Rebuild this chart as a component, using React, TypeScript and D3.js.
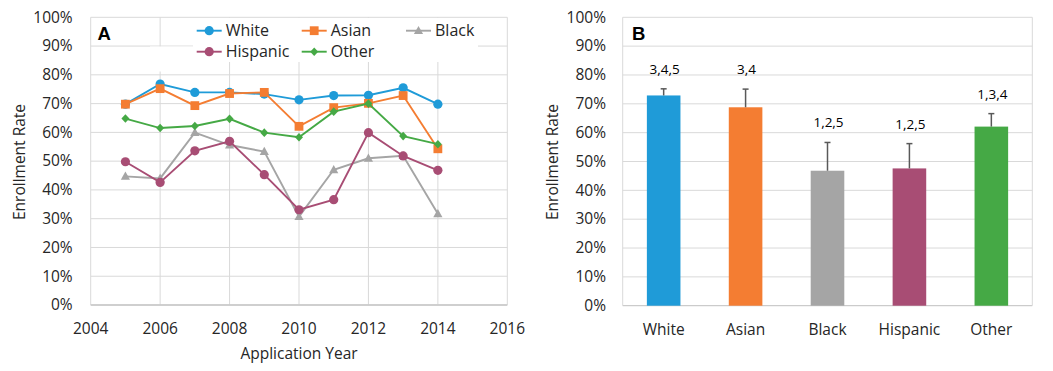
import React from "react";
import * as d3 from "d3";

const years = [2005, 2006, 2007, 2008, 2009, 2010, 2011, 2012, 2013, 2014];
const whiteRate = [69.8, 76.8, 73.9, 73.9, 73.3, 71.3, 72.8, 72.9, 75.5, 69.8];
const asianRate = [69.8, 75.2, 69.3, 73.5, 73.9, 62.1, 68.6, 70.1, 72.8, 54.3];
const blackRate = [44.7, 44.0, 59.9, 55.6, 53.3, 30.7, 47.0, 51.0, 51.9, 31.7];
const hispanicRate = [49.8, 42.6, 53.6, 56.9, 45.3, 33.1, 36.6, 59.9, 51.8, 46.8];
const otherRate = [64.8, 61.5, 62.2, 64.7, 59.9, 58.3, 67.2, 70.0, 58.7, 55.9];

const groups = ["White", "Asian", "Black", "Hispanic", "Other"];
const overallRate = [72.9, 68.8, 46.8, 47.6, 62.1];
const errorUpper = [75.2, 75.1, 56.6, 56.2, 66.6];
const sigLabels = ["3,4,5", "3,4", "1,2,5", "1,2,5", "1,3,4"];

const yTicks = [0, 10, 20, 30, 40, 50, 60, 70, 80, 90, 100];
const xTicks = [2004, 2006, 2008, 2010, 2012, 2014, 2016];

const colors = ["#1f9bd8", "#f47d32", "#a5a5a5", "#a84d74", "#45a945"];
const markers = ["circle", "square", "triangle", "circle", "diamond"];
const seriesValues = [whiteRate, asianRate, blackRate, hispanicRate, otherRate];

const FONT = "'Open Sans', sans-serif";
const TXT = "#262626";
const GRID = "#d9d9d9";
const AXIS = "#bfbfbf";

function Marker({ type, x, y, color }: { type: string; x: number; y: number; color: string }) {
  if (type === "circle") return <circle cx={x} cy={y} r={4.6} fill={color} />;
  if (type === "square") return <rect x={x - 4.4} y={y - 4.4} width={8.8} height={8.8} fill={color} />;
  if (type === "triangle")
    return <path d={`M${x},${y - 4.8}L${x + 4.6},${y + 3.4}L${x - 4.6},${y + 3.4}Z`} fill={color} />;
  return <path d={`M${x},${y - 4.3}L${x + 4},${y}L${x},${y + 4.3}L${x - 4},${y}Z`} fill={color} />;
}

export default function App() {
  // Panel A
  const ax0 = 90.7, ax1 = 507.3, ay0 = 305, ay1 = 17.3;
  const xA = d3.scaleLinear().domain([2004, 2016]).range([ax0, ax1]);
  const yA = d3.scaleLinear().domain([0, 100]).range([ay0, ay1]);
  const line = d3
    .line<number>()
    .x((_, i) => xA(years[i]))
    .y((d) => yA(d));

  // Panel B
  const bx0 = 622.7, bx1 = 1032.3, by0 = 305.7, by1 = 17.3;
  const xB = d3.scaleBand().domain(groups).range([bx0, bx1]).paddingInner(0.59).paddingOuter(0.295);
  const yB = d3.scaleLinear().domain([0, 100]).range([by0, by1]);

  const legendItems = [
    { name: "White", idx: 0, x: 196.7, y: 30.7 },
    { name: "Asian", idx: 1, x: 301.7, y: 30.7 },
    { name: "Black", idx: 2, x: 406, y: 30.7 },
    { name: "Hispanic", idx: 3, x: 196.7, y: 51.7 },
    { name: "Other", idx: 4, x: 301.7, y: 51.7 },
  ];

  return (
    <svg
      width={1053}
      height={371}
      style={{ position: "absolute", left: 0, top: 0, background: "#fff" }}
      fontFamily={FONT}
    >
      {/* Panel A grid */}
      <g>
        {yTicks.map((t) => (
          <line key={t} x1={ax0} x2={ax1} y1={yA(t)} y2={yA(t)} stroke={t === 0 ? AXIS : GRID} strokeWidth={1} />
        ))}
        {xTicks.map((t) => (
          <line key={t} x1={xA(t)} x2={xA(t)} y1={ay1} y2={ay0} stroke={GRID} strokeWidth={1} />
        ))}
        <line x1={ax0} x2={ax1} y1={ay0} y2={ay0} stroke={AXIS} strokeWidth={1.2} />
        {yTicks.map((t) => (
          <text key={t} x={72.7} y={yA(t) + 5.3} textAnchor="end" fontSize={15.5} fill={TXT}>
            {t}%
          </text>
        ))}
        {xTicks.map((t) => (
          <text key={t} x={xA(t)} y={333.5} textAnchor="middle" fontSize={15.5} fill={TXT}>
            {t}
          </text>
        ))}
        <text x={299} y={359} textAnchor="middle" fontSize={15.5} fill={TXT}>
          Application Year
        </text>
        <text transform="translate(24.5,162) rotate(-90)" textAnchor="middle" fontSize={15.5} fill={TXT}>
          Enrollment Rate
        </text>
      </g>

      {/* legend backgrounds */}
      <rect x={193} y={18} width={285} height={44} fill="#fff" />
      <rect x={150} y={46.5} width={43} height={25} fill="#fff" />

      {/* Panel A lines */}
      {seriesValues.map((vals, si) => (
        <g key={si}>
          <path d={line(vals) || ""} fill="none" stroke={colors[si]} strokeWidth={1.9} />
          {vals.map((v, i) => (
            <Marker key={i} type={markers[si]} x={xA(years[i])} y={yA(v)} color={colors[si]} />
          ))}
        </g>
      ))}

      {/* Panel A legend */}
      {legendItems.map((it) => (
        <g key={it.name}>
          <line x1={it.x} x2={it.x + 25} y1={it.y} y2={it.y} stroke={colors[it.idx]} strokeWidth={1.9} />
          <Marker type={markers[it.idx]} x={it.x + 12.5} y={it.y} color={colors[it.idx]} />
          <text x={it.x + 29} y={it.y + 5.6} fontSize={16} fill={TXT}>
            {it.name}
          </text>
        </g>
      ))}
      <text x={97.5} y={39.5} fontSize={18.5} fontWeight="bold" fill="#000" fontFamily="'Liberation Sans', Arial, sans-serif">
        A
      </text>

      {/* Panel B */}
      <g>
        {yTicks.map((t) => (
          <line key={t} x1={bx0} x2={bx1} y1={yB(t)} y2={yB(t)} stroke={t === 0 ? AXIS : GRID} strokeWidth={1} />
        ))}
        <line x1={bx0} x2={bx0} y1={by1} y2={by0} stroke={GRID} strokeWidth={1} />
        <line x1={bx1} x2={bx1} y1={by1} y2={by0} stroke={GRID} strokeWidth={1} />
        {yTicks.map((t) => (
          <text key={t} x={606} y={yB(t) + 5.3} textAnchor="end" fontSize={15.5} fill={TXT}>
            {t}%
          </text>
        ))}
        <text transform="translate(557.5,162) rotate(-90)" textAnchor="middle" fontSize={15.5} fill={TXT}>
          Enrollment Rate
        </text>
        {groups.map((g, i) => {
          const x = xB(g) as number;
          const w = xB.bandwidth();
          const cx = x + w / 2;
          return (
            <g key={g}>
              <rect x={x} y={yB(overallRate[i])} width={w} height={by0 - yB(overallRate[i])} fill={colors[i]} />
              <line x1={cx} x2={cx} y1={yB(overallRate[i])} y2={yB(errorUpper[i])} stroke="#595959" strokeWidth={1.5} />
              <line x1={cx - 3} x2={cx + 3} y1={yB(errorUpper[i])} y2={yB(errorUpper[i])} stroke="#595959" strokeWidth={1.5} />
              <text x={cx + 1} y={yB(errorUpper[i]) - 15} textAnchor="middle" fontSize={13.5} fill="#000">
                {sigLabels[i]}
              </text>
              <text x={cx} y={334.5} textAnchor="middle" fontSize={15.5} fill={TXT}>
                {g}
              </text>
            </g>
          );
        })}
        <text x={632} y={39.5} fontSize={18.5} fontWeight="bold" fill="#000" fontFamily="'Liberation Sans', Arial, sans-serif">
          B
        </text>
      </g>
    </svg>
  );
}
